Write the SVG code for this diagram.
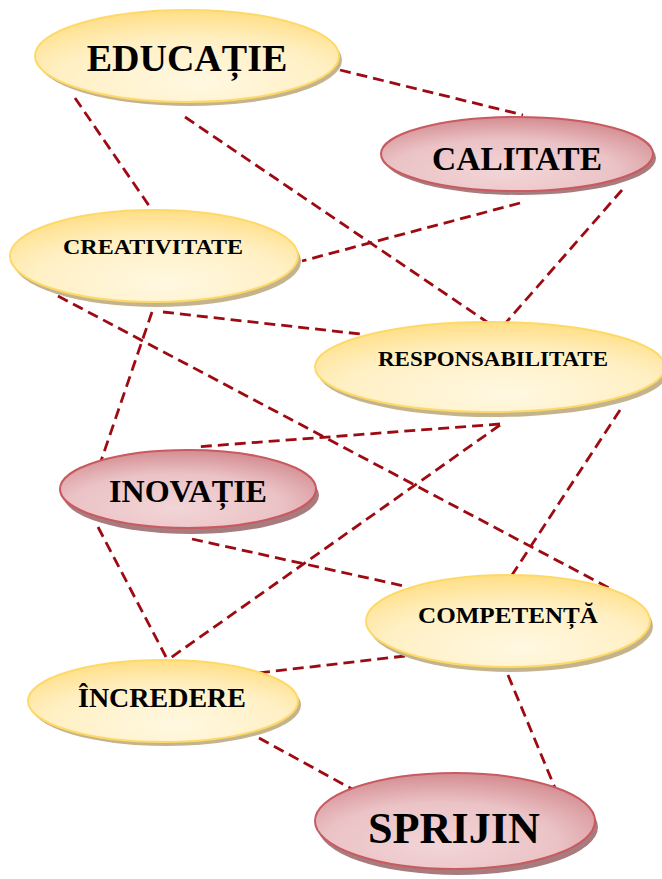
<svg xmlns="http://www.w3.org/2000/svg" width="662" height="879" viewBox="0 0 662 879">
<defs>
<radialGradient id="gy" cx="0.5" cy="0.75" r="0.75" fx="0.55" fy="0.8">
<stop offset="0" stop-color="#FFF8E2"/>
<stop offset="0.6" stop-color="#FFF0C4"/>
<stop offset="1" stop-color="#FFDE85"/>
</radialGradient>
<radialGradient id="gr" cx="0.45" cy="0.7" r="0.75" fx="0.45" fy="0.75">
<stop offset="0" stop-color="#F2D5D7"/>
<stop offset="0.55" stop-color="#EBC3C6"/>
<stop offset="1" stop-color="#D08489"/>
</radialGradient>
<style>
.conn line{stroke:#9E0A12;stroke-width:2.8;stroke-dasharray:11 6;fill:none}
.ys{fill:#C4B48E}
.rs{fill:#A87C7E}
.y{fill:url(#gy);stroke:#FFD966;stroke-width:2}
.r{fill:url(#gr);stroke:#C85A60;stroke-width:2}
text{font-family:"Liberation Serif","Times New Roman",serif;font-weight:bold;fill:#000;text-anchor:middle}
</style>
</defs>
<rect width="662" height="879" fill="#fff"/>
<g id="connectors" class="conn">
<line x1="340" y1="70" x2="523" y2="115"/>
<line x1="75" y1="98" x2="152" y2="210"/>
<line x1="185" y1="117" x2="490" y2="324"/>
<line x1="520" y1="203" x2="302" y2="261"/>
<line x1="622" y1="190" x2="503" y2="326"/>
<line x1="163" y1="312" x2="360" y2="334"/>
<line x1="152" y1="312" x2="101" y2="461"/>
<line x1="58" y1="296" x2="611" y2="589"/>
<line x1="500" y1="424" x2="195" y2="447"/>
<line x1="500" y1="425" x2="169" y2="659"/>
<line x1="620" y1="410" x2="512" y2="575"/>
<line x1="192" y1="539" x2="404" y2="586"/>
<line x1="98" y1="527" x2="166" y2="657"/>
<line x1="405" y1="656" x2="258" y2="673"/>
<line x1="508" y1="675" x2="555" y2="788"/>
<line x1="259" y1="738" x2="352" y2="789"/>
</g>
<g id="educatie">
<ellipse class="ys" cx="190" cy="60" rx="152" ry="46"/>
<ellipse class="y" cx="187" cy="56" rx="152" ry="46"/>
<text x="187" y="71" font-size="38">EDUCAȚIE</text>
</g>
<g id="calitate">
<ellipse class="rs" cx="520" cy="158" rx="136" ry="37"/>
<ellipse class="r" cx="517" cy="154" rx="136" ry="37"/>
<text x="517" y="170" font-size="34" textLength="170" lengthAdjust="spacingAndGlyphs">CALITATE</text>
</g>
<g id="creativitate">
<ellipse class="ys" cx="157" cy="261" rx="144" ry="46"/>
<ellipse class="y" cx="154" cy="256" rx="144" ry="46"/>
<text x="153" y="254" font-size="22" textLength="180" lengthAdjust="spacingAndGlyphs">CREATIVITATE</text>
</g>
<g id="responsabilitate">
<ellipse class="ys" cx="493" cy="372" rx="175" ry="45"/>
<ellipse class="y" cx="490" cy="367" rx="175" ry="45"/>
<text x="493" y="366" font-size="22" textLength="230" lengthAdjust="spacingAndGlyphs">RESPONSABILITATE</text>
</g>
<g id="inovatie">
<ellipse class="rs" cx="191" cy="495" rx="128" ry="39"/>
<ellipse class="r" cx="188" cy="489" rx="128" ry="39"/>
<text x="188" y="502" font-size="31" textLength="158" lengthAdjust="spacingAndGlyphs">INOVAȚIE</text>
</g>
<g id="competenta">
<ellipse class="ys" cx="511" cy="626" rx="142" ry="46"/>
<ellipse class="y" cx="508" cy="621" rx="142" ry="46"/>
<text x="508" y="623" font-size="24" textLength="180" lengthAdjust="spacingAndGlyphs">COMPETENȚĂ</text>
</g>
<g id="incredere">
<ellipse class="ys" cx="166" cy="705" rx="135" ry="41"/>
<ellipse class="y" cx="163" cy="701" rx="135" ry="41"/>
<text x="162" y="707" font-size="27" textLength="168" lengthAdjust="spacingAndGlyphs">ÎNCREDERE</text>
</g>
<g id="sprijin">
<ellipse class="rs" cx="458" cy="827" rx="140" ry="48"/>
<ellipse class="r" cx="455" cy="821" rx="140" ry="48"/>
<text x="454" y="843" font-size="45" textLength="172" lengthAdjust="spacingAndGlyphs">SPRIJIN</text>
</g>
</svg>
